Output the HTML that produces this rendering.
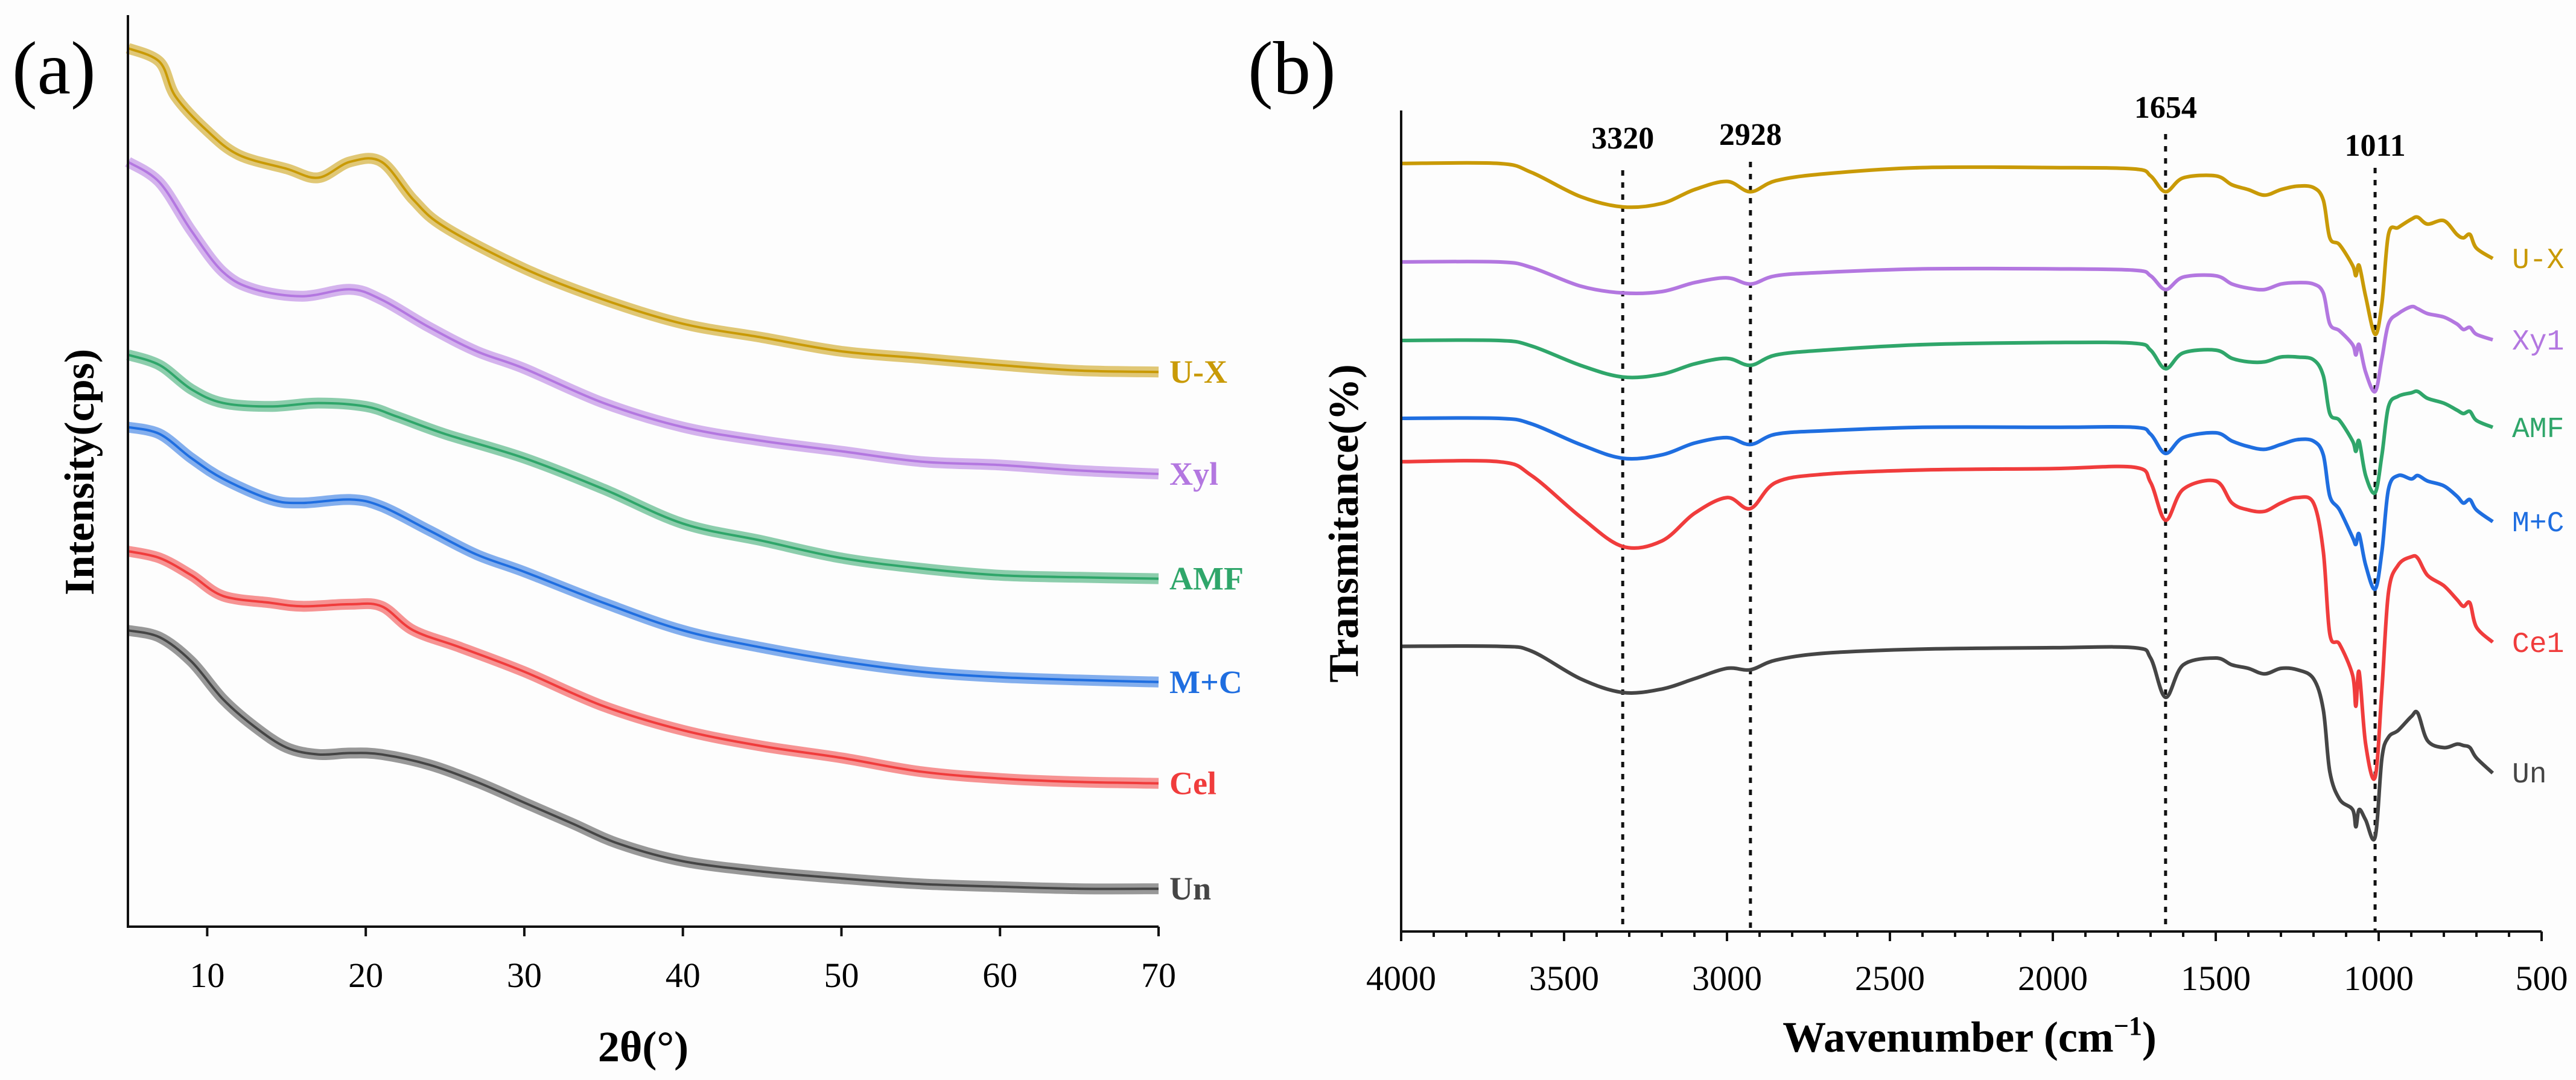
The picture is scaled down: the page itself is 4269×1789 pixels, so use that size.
<!DOCTYPE html>
<html><head><meta charset="utf-8"><style>
html,body{margin:0;padding:0;background:#fdfdfd;}
svg{display:block;font-family:"Liberation Serif",serif;}
</style></head><body>
<svg id="fig" width="4269" height="1789" viewBox="0 0 4269 1789" xmlns="http://www.w3.org/2000/svg">
<rect x="0" y="0" width="4269" height="1789" fill="#fdfdfd"/>
<g id="pa"></g>
<g id="pb"></g>
</svg>
<script>
// ---------- XRD data (panel a) ----------
const xrdNames = ["U-X","Xyl","AMF","M+C","Cel","Un"];
const xrdColors = ["#c99a06","#b377e0","#2fa66a","#1f6ee0","#f03c3c","#454545"];
const xrdTicks = [10,20,30,40,50,60,70];
const xrdUX = [[5,1275],[7,1255],[8,1205],[10,1155],[12,1120],[15,1100],[17,1087],[19,1110],[21,1110],[23,1055],[25,1015],[30,955],[35,910],[40,875],[45,855],[50,835],[55,825],[60,815],[65,807],[70,805]];
const xrdXyl = [[5,1110],[7,1080],[9,1010],[11,950],[13,925],[16,915],[19,925],[21,910],[24,870],[27,835],[30,810],[35,760],[40,725],[45,705],[50,690],[55,675],[60,670],[65,662],[70,657]];
const xrdAMF = [[5,830],[7,815],[9,780],[11,760],[14,755],[17,760],[20,755],[22,740],[25,715],[30,680],[35,635],[40,585],[45,560],[50,535],[55,520],[60,510],[65,507],[70,505]];
const xrdMC = [[5,725],[7,715],[9,680],[11,650],[14,620],[16,615],[19,620],[21,610],[24,575],[27,540],[30,515],[35,470],[40,430],[45,405],[50,385],[55,370],[60,362],[65,358],[70,355]];
const xrdCel = [[5,545],[7,535],[9,510],[11,480],[14,470],[16,465],[19,468],[21,465],[23,430],[26,405],[30,370],[35,320],[40,285],[45,262],[50,245],[55,225],[60,215],[65,210],[70,208]];
const xrdUn = [[5,430],[7,420],[9,385],[11,330],[13,290],[15,260],[17,250],[19,252],[21,250],[24,235],[27,210],[30,180],[33,150],[36,120],[40,95],[45,80],[50,70],[55,62],[60,58],[65,55],[70,55]];
const xrdSeries = [xrdUX,xrdXyl,xrdAMF,xrdMC,xrdCel,xrdUn];

// ---------- FTIR data (panel b) ----------
const ftirNames = ["U-X","Xyl","AMF","M+C","Cel","Un"];
const ftirColors = ["#c99a06","#b377e0","#2fa66a","#1f6ee0","#f03c3c","#454545"];
const ftirTicks = [4000,3500,3000,2500,2000,1500,1000,500];
const ftirPeaks = [3320,2928,1654,1011];
const wn = [4000,3700,3600,3450,3320,3200,3100,3000,2928,2850,2700,2400,2000,1750,1700,1654,1600,1500,1450,1400,1350,1300,1250,1200,1170,1150,1120,1080,1070,1060,1040,1011,990,970,940,900,880,850,800,760,740,720,700,650];
const tUX = [1115,1115,1102,1067,1052,1057,1077,1089,1074,1090,1100,1109,1109,1107,1097,1074,1094,1097,1084,1077,1069,1077,1082,1080,1062,1007,997,967,952,967,922,867,912,1012,1022,1034,1037,1027,1032,1012,1007,1012,992,977];
const tXyl = [972,972,964,937,927,929,942,949,940,952,957,962,962,960,952,932,950,952,940,934,932,940,942,940,927,882,872,852,837,852,812,784,832,882,897,907,904,897,892,882,874,877,867,859];
const tAMF = [858,858,850,822,805,809,824,832,822,837,844,852,855,854,844,817,840,844,832,827,827,834,834,830,807,752,742,712,697,712,662,637,692,762,777,782,784,774,767,757,752,755,742,732];
const tMC = [745,745,737,707,687,692,709,717,707,722,727,732,732,732,722,694,717,724,712,704,700,707,714,712,692,632,612,572,562,577,532,497,552,642,662,657,662,654,647,632,622,627,612,595];
const tCel = [682,682,662,602,559,567,607,630,614,652,664,670,672,674,652,597,642,654,622,612,610,622,630,622,552,432,417,372,327,377,272,224,352,492,532,544,542,517,502,482,472,477,442,420];
const tUn = [414,414,407,367,347,352,367,382,380,394,404,410,412,412,397,340,387,397,387,382,374,382,380,367,322,232,192,177,152,177,162,137,252,282,292,312,317,277,267,272,270,267,252,230];
const ftirSeries = [tUX,tXyl,tAMF,tMC,tCel,tUn];

const NS="http://www.w3.org/2000/svg";
function mk(parent,tag,attrs,text){const e=document.createElementNS(NS,tag);for(const k in attrs)e.setAttribute(k,attrs[k]);if(text!==undefined)e.textContent=text;parent.appendChild(e);return e;}
function smooth(pts){let d="M"+pts[0][0].toFixed(1)+","+pts[0][1].toFixed(1);for(let i=0;i<pts.length-1;i++){const p0=pts[Math.max(0,i-1)],p1=pts[i],p2=pts[i+1],p3=pts[Math.min(pts.length-1,i+2)];const c1x=p1[0]+(p2[0]-p0[0])/6,c1y=p1[1]+(p2[1]-p0[1])/6,c2x=p2[0]-(p3[0]-p1[0])/6,c2y=p2[1]-(p3[1]-p1[1])/6;d+="C"+c1x.toFixed(1)+","+c1y.toFixed(1)+" "+c2x.toFixed(1)+","+c2y.toFixed(1)+" "+p2[0].toFixed(1)+","+p2[1].toFixed(1);}return d;}

// ---------- Panel a ----------
(function(){
const g=document.getElementById("pa");
const X0=212,X1=1920,Y0=1535,Y1=25;
const xs=v=>X0+(v-5)/(70-5)*(X1-X0);
const ys=v=>Y0-v/1323*(Y0-Y1);
let t=mk(g,"text",{x:20,y:155,"font-size":125});t.textContent="(a)";


xrdSeries.forEach((s,i)=>{
  const pts=s.map(p=>[xs(p[0]),ys(p[1])]);
  const p=mk(g,"path",{d:smooth(pts),fill:"none",stroke:xrdColors[i],"stroke-width":18,"stroke-opacity":0.55,"stroke-linejoin":"round"});
  
  
  const p2=mk(g,"path",{d:smooth(pts),fill:"none",stroke:xrdColors[i],"stroke-width":4});
  
  
  const last=s[s.length-1];
  const l=mk(g,"text",{x:1938,y:ys(last[1])+18,"font-size":54,"font-weight":"bold",fill:xrdColors[i]},xrdNames[i]);
  
  
});
const ax=mk(g,"path",{d:`M${X0},${Y1}V${Y0}H${X1}`,fill:"none",stroke:"#111","stroke-width":4});


xrdTicks.forEach(v=>{
  const tk=mk(g,"line",{x1:xs(v),x2:xs(v),y1:Y0,y2:Y0+16,stroke:"#111","stroke-width":4});
  
  
  const tl=mk(g,"text",{x:xs(v),y:1635,"font-size":58,"text-anchor":"middle"},String(v));
  
  
});
const xt=mk(g,"text",{x:1066,y:1758,"font-size":72,"font-weight":"bold","text-anchor":"middle"},"2θ(°)");


const yt=mk(g,"text",{x:0,y:0,"font-size":70,"font-weight":"bold","text-anchor":"middle",transform:"translate(155,782) rotate(-90)"},"Intensity(cps)");


})();

// ---------- Panel b ----------
(function(){
const g=document.getElementById("pb");
const X0=2322,X1=4212,Y0=1543,Y1=183;
const xs=v=>X0+(4000-v)/(4000-500)*(X1-X0);
const ys=v=>Y0-v*1.141;
let t=mk(g,"text",{x:2068,y:155,"font-size":125},"(b)");


const peakLabelY=[228,222,177,240];
const peakTopY=[282,268,222,278];
ftirPeaks.forEach((v,i)=>{
  const dl=mk(g,"line",{x1:xs(v),x2:xs(v),y1:peakTopY[i],y2:Y0,stroke:"#111","stroke-width":5,"stroke-dasharray":"9 11"});
  
  
  const pl=mk(g,"text",{x:xs(v),y:peakLabelY[i]+18,"font-size":52,"font-weight":"bold","text-anchor":"middle"},String(v));
  
  
});
ftirSeries.forEach((s,i)=>{
  const pts=s.map((v,j)=>[xs(wn[j]),ys(v)]);
  const p=mk(g,"path",{d:smooth(pts),fill:"none",stroke:ftirColors[i],"stroke-width":6,"stroke-linejoin":"round"});
  
  
});
const labY=[428,563,708,864,1064,1280];
ftirNames.forEach((n,i)=>{
  const l=mk(g,"text",{x:4163,y:labY[i]+16,"font-size":48,"font-family":"Liberation Mono, monospace",fill:ftirColors[i]},n==="Xyl"?"Xy1":(n==="Cel"?"Ce1":n));
  
  
});
const ax=mk(g,"path",{d:`M${X0},${Y1}V${Y0}H${X1}`,fill:"none",stroke:"#111","stroke-width":4});


for(let v=4000;v>=500;v-=100){
  const major=v%500===0;
  const tk=mk(g,"line",{x1:xs(v),x2:xs(v),y1:Y0,y2:Y0+(major?16:9),stroke:"#111","stroke-width":4});
  
  
}
ftirTicks.forEach(v=>{
  const tl=mk(g,"text",{x:xs(v),y:1640,"font-size":58,"text-anchor":"middle"},String(v));
  
  
});
const xt=mk(g,"text",{x:3264,y:1742,"font-size":72,"font-weight":"bold","text-anchor":"middle"});


xt.textContent="Wavenumber (cm";
const sup=mk(xt,"tspan",{dy:-28,"font-size":44},"−1");
const cl=mk(xt,"tspan",{dy:28},")");
const yt=mk(g,"text",{x:0,y:0,"font-size":70,"font-weight":"bold","text-anchor":"middle",transform:"translate(2250,867) rotate(-90)"},"Transmitance(%)");


})();
</script>
</body></html>
